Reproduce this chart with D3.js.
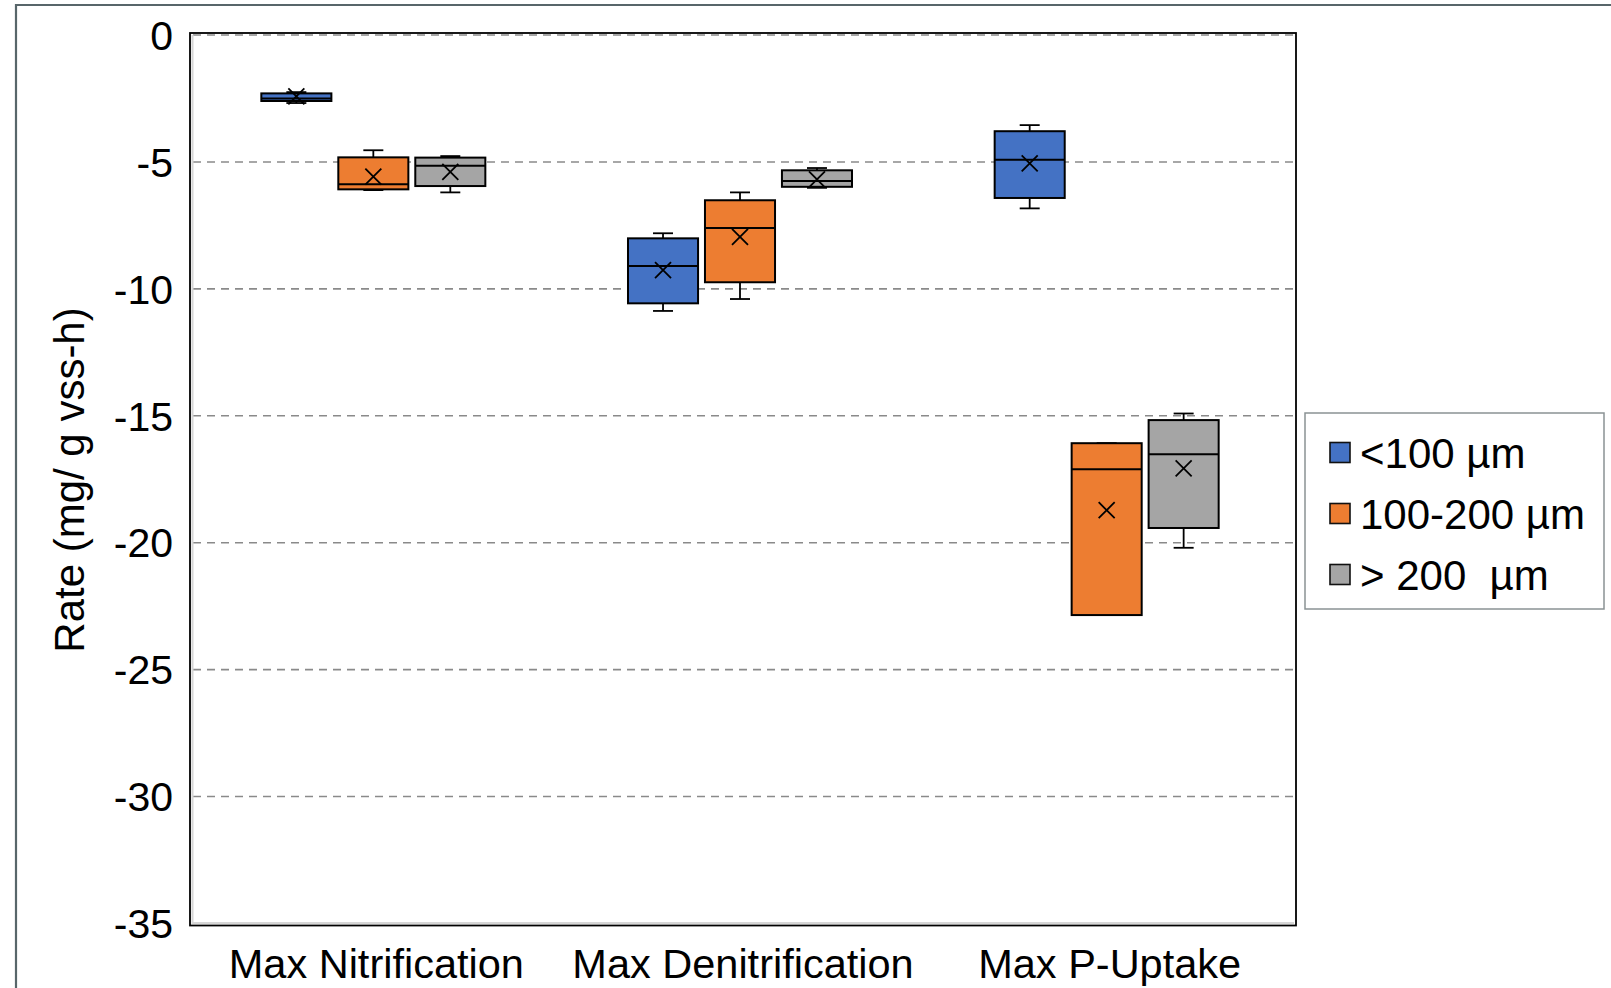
<!DOCTYPE html>
<html>
<head>
<meta charset="utf-8">
<script src="https://cdn.jsdelivr.net/npm/d3@7"></script>
<style>
  html, body { margin: 0; padding: 0; background: #ffffff; }
  svg { display: block; font-family: Arial, "Liberation Sans", sans-serif; }
</style>
</head>
<body>
<svg id="chart" width="1611" height="988"></svg>
<script>
// Categories and size classes
const categories = ["Max Nitrification", "Max Denitrification", "Max P-Uptake"];
const seriesNames = ["<100 µm", "100-200 µm", "> 200  µm"];
const seriesColors = ["#4472C4", "#ED7D31", "#A5A5A5"];
const yTicks = [0, -5, -10, -15, -20, -25, -30, -35];

// Five-number summaries per size class, one entry per category
const minValues = [
  [-2.68, -10.87, -6.83],
  [-6.11, -10.40, -22.85],
  [-6.20, -6.02, -20.20]
];
const q1Values = [
  [-2.60, -10.57, -6.42],
  [-6.08, -9.74, -22.85],
  [-5.95, -5.98, -19.42]
];
const medianValues = [
  [-2.50, -9.10, -4.91],
  [-5.88, -7.60, -17.11],
  [-5.15, -5.75, -16.52]
];
const q3Values = [
  [-2.30, -8.01, -3.79],
  [-4.82, -6.51, -16.08],
  [-4.83, -5.33, -15.17]
];
const maxValues = [
  [-2.25, -7.81, -3.55],
  [-4.54, -6.20, -16.08],
  [-4.77, -5.24, -14.91]
];
const meanValues = [
  [-2.42, -9.26, -5.06],
  [-5.58, -7.95, -18.72],
  [-5.39, -5.69, -17.07]
];

const svg = d3.select("#chart");

// Outer figure frame
svg.append("path")
  .attr("d", "M16,1000 L16,5 L1620,5")
  .attr("fill", "none")
  .attr("stroke", "#58666a")
  .attr("stroke-width", 2.2);

const plotLeft = 190, plotRight = 1296;
const y = d3.scaleLinear().domain([0, -35]).range([35, 923.5]);
const x = d3.scaleBand().domain(categories).range([plotLeft, plotRight - 6]);
const xs = d3.scaleBand().domain(seriesNames).range([-112, 112]).paddingInner(0.09).paddingOuter(0);

// Gridlines
svg.append("g").selectAll("line")
  .data(yTicks.filter(t => t !== -35))
  .join("line")
  .attr("x1", plotLeft + 3).attr("x2", plotRight - 2)
  .attr("y1", d => y(d)).attr("y2", d => y(d))
  .attr("stroke", "#8a8a8a")
  .attr("stroke-width", 1.6)
  .attr("stroke-dasharray", "8,6");

// Plot frame with soft inner edge
const frameTop = y(0) - 2, frameBottom = y(-35) + 2;
svg.append("path")
  .attr("d", `M${plotLeft + 2.5},${frameTop + 2} L${plotLeft + 2.5},${frameBottom - 2.5} L${plotRight - 2},${frameBottom - 2.5}`)
  .attr("fill", "none").attr("stroke", "#d6d6d6").attr("stroke-width", 2);
svg.append("rect")
  .attr("x", plotLeft).attr("y", frameTop)
  .attr("width", plotRight - plotLeft).attr("height", frameBottom - frameTop)
  .attr("fill", "none").attr("stroke", "#000").attr("stroke-width", 1.8);

// Y tick labels
svg.append("g").selectAll("text")
  .data(yTicks)
  .join("text")
  .attr("x", 173)
  .attr("y", d => y(d))
  .attr("dy", "0.36em")
  .attr("text-anchor", "end")
  .attr("font-size", 41)
  .attr("fill", "#000")
  .text(d => String(d));

// Y axis title
svg.append("text")
  .attr("transform", "translate(84,480) rotate(-90)")
  .attr("text-anchor", "middle")
  .attr("font-size", 42)
  .attr("fill", "#000")
  .text("Rate (mg/ g vss-h)");

// Category labels
svg.append("g").selectAll("text")
  .data(categories)
  .join("text")
  .attr("x", d => x(d) + x.bandwidth() / 2 + 3)
  .attr("y", 978)
  .attr("text-anchor", "middle")
  .attr("font-size", 41.5)
  .attr("fill", "#000")
  .text(d => d);

// Box records built from the arrays
const boxes = [];
seriesNames.forEach((s, si) => {
  categories.forEach((c, ci) => {
    boxes.push({
      series: s, cat: c, color: seriesColors[si],
      min: minValues[si][ci], q1: q1Values[si][ci], med: medianValues[si][ci],
      q3: q3Values[si][ci], max: maxValues[si][ci], mean: meanValues[si][ci]
    });
  });
});

const capW = 20, crossR = 8;
const g = svg.append("g").selectAll("g.box")
  .data(boxes)
  .join("g")
  .attr("class", "box")
  .attr("transform", d => `translate(${x(d.cat) + x.bandwidth() / 2 + xs(d.series) + xs.bandwidth() / 2},0)`);

// Whiskers
g.append("line")
  .attr("x1", 0).attr("x2", 0)
  .attr("y1", d => y(d.max)).attr("y2", d => y(d.q3))
  .attr("stroke", "#000").attr("stroke-width", 1.8);
g.append("line")
  .attr("x1", 0).attr("x2", 0)
  .attr("y1", d => y(d.q1)).attr("y2", d => y(d.min))
  .attr("stroke", "#000").attr("stroke-width", 1.8);
g.append("line")
  .attr("x1", -capW / 2).attr("x2", capW / 2)
  .attr("y1", d => y(d.max)).attr("y2", d => y(d.max))
  .attr("stroke", "#000").attr("stroke-width", 1.8);
g.append("line")
  .attr("x1", -capW / 2).attr("x2", capW / 2)
  .attr("y1", d => y(d.min)).attr("y2", d => y(d.min))
  .attr("stroke", "#000").attr("stroke-width", 1.8);

// Boxes
g.append("rect")
  .attr("x", -xs.bandwidth() / 2)
  .attr("width", xs.bandwidth())
  .attr("y", d => y(d.q3))
  .attr("height", d => y(d.q1) - y(d.q3))
  .attr("fill", d => d.color)
  .attr("stroke", "#000").attr("stroke-width", 2);

// Medians
g.append("line")
  .attr("x1", -xs.bandwidth() / 2).attr("x2", xs.bandwidth() / 2)
  .attr("y1", d => y(d.med)).attr("y2", d => y(d.med))
  .attr("stroke", "#000").attr("stroke-width", 2);

// Mean markers
g.append("path")
  .attr("d", d => {
    const cy = y(d.mean);
    return `M${-crossR},${cy - crossR} L${crossR},${cy + crossR} M${-crossR},${cy + crossR} L${crossR},${cy - crossR}`;
  })
  .attr("stroke", "#000").attr("stroke-width", 1.8).attr("fill", "none");

// Legend
const legend = svg.append("g");
legend.append("rect")
  .attr("x", 1305).attr("y", 413)
  .attr("width", 299).attr("height", 196)
  .attr("fill", "#fff")
  .attr("stroke", "#8a9294").attr("stroke-width", 1.5);
const items = legend.selectAll("g.item")
  .data(seriesNames)
  .join("g")
  .attr("class", "item")
  .attr("transform", (d, i) => `translate(0,${452.5 + i * 61})`);
items.append("rect")
  .attr("x", 1330).attr("y", -10)
  .attr("width", 20).attr("height", 20)
  .attr("fill", (d, i) => seriesColors[i])
  .attr("stroke", "#111").attr("stroke-width", 1.6);
items.append("text")
  .attr("x", 1360).attr("y", 0).attr("dy", "0.36em")
  .attr("font-size", 42).attr("fill", "#000")
  .attr("xml:space", "preserve")
  .style("white-space", "pre")
  .text(d => d);
</script>
</body>
</html>
